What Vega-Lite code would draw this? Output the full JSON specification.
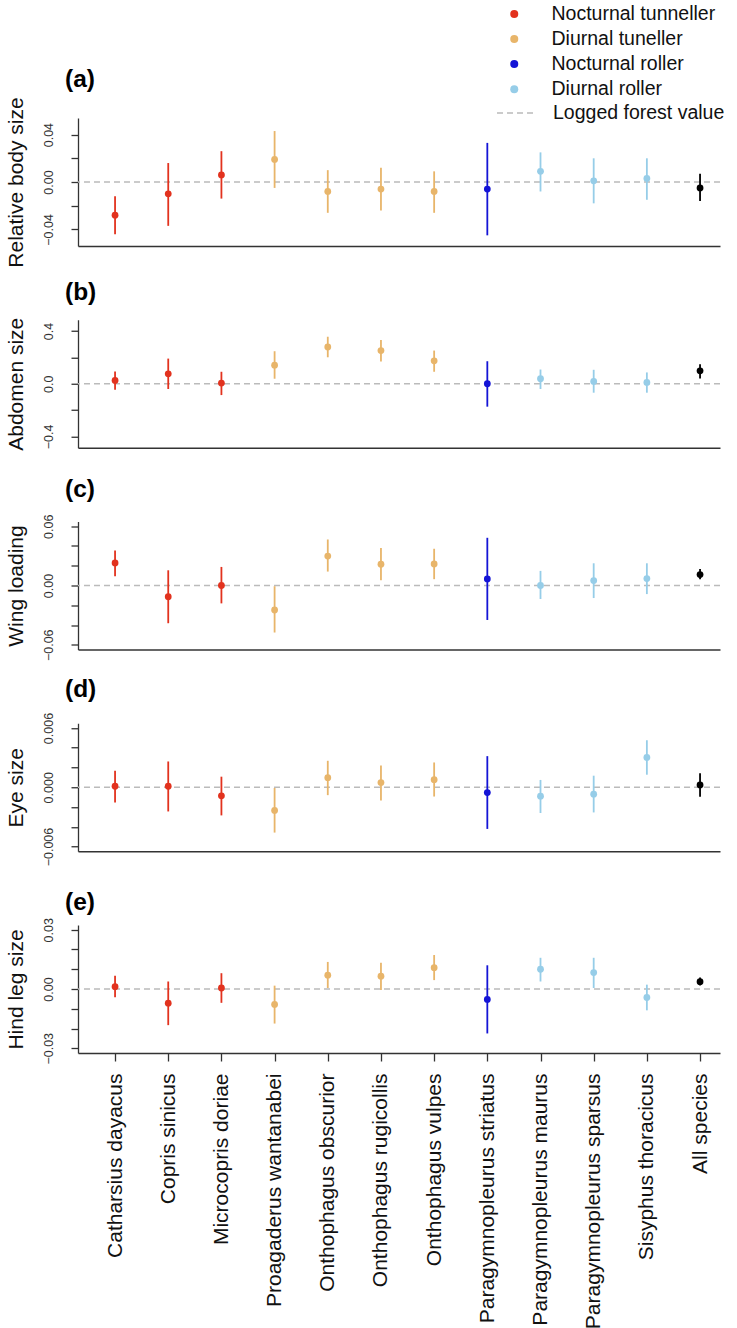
{
  "$schema": "https://vega.github.io/schema/vega-lite/v6.json",
  "background": "white",
  "padding": {"left": 5, "top": 4, "right": 5, "bottom": 2},
  "bounds": "flush",
  "spacing": 73.75,
  "config": {
    "font": "Liberation Sans",
    "view": {"stroke": null},
    "axis": {"grid": false, "domainColor": "#333333", "tickColor": "#333333", "domainWidth": 1.3, "tickWidth": 1.3, "labelFont": "Liberation Sans", "titleFont": "Liberation Sans", "titleFontWeight": "normal", "labelOverlap": false},
    "axisY": {"labelAngle": -90, "labelAlign": "center", "labelBaseline": "bottom", "labelPadding": 16, "labelFontSize": 12.5, "labelColor": "#333333", "tickSize": 7, "titleFontSize": 21, "titleColor": "#111111", "titlePadding": 16},
    "axisX": {"labelAngle": -90, "labelAlign": "right", "labelBaseline": "middle", "labelFontSize": 21, "labelColor": "#111111", "labelPadding": 12, "tickSize": 8, "labelLimit": 400},
    "legend": {"orient": "none", "padding": 0, "labelFontSize": 19.5, "labelColor": "#111111", "labelFont": "Liberation Sans", "labelLimit": 400},
    "title": {"anchor": "start", "frame": "group", "dx": -13, "fontSize": 24.5, "fontWeight": "bold", "baseline": "alphabetic", "color": "#000000", "font": "Liberation Sans"}
  },
  "datasets": {
    "traits": [
      {"trait": "body", "species": "Catharsius dayacus", "group": "Nocturnal tunneller", "est": -0.028, "lo": -0.044, "hi": -0.012},
      {"trait": "body", "species": "Copris sinicus", "group": "Nocturnal tunneller", "est": -0.010, "lo": -0.037, "hi": 0.016},
      {"trait": "body", "species": "Microcopris doriae", "group": "Nocturnal tunneller", "est": 0.006, "lo": -0.014, "hi": 0.026},
      {"trait": "body", "species": "Proagaderus wantanabei", "group": "Diurnal tuneller", "est": 0.019, "lo": -0.005, "hi": 0.043},
      {"trait": "body", "species": "Onthophagus obscurior", "group": "Diurnal tuneller", "est": -0.008, "lo": -0.026, "hi": 0.010},
      {"trait": "body", "species": "Onthophagus rugicollis", "group": "Diurnal tuneller", "est": -0.006, "lo": -0.024, "hi": 0.012},
      {"trait": "body", "species": "Onthophagus vulpes", "group": "Diurnal tuneller", "est": -0.008, "lo": -0.026, "hi": 0.009},
      {"trait": "body", "species": "Paragymnopleurus striatus", "group": "Nocturnal roller", "est": -0.006, "lo": -0.045, "hi": 0.033},
      {"trait": "body", "species": "Paragymnopleurus maurus", "group": "Diurnal roller", "est": 0.009, "lo": -0.008, "hi": 0.025},
      {"trait": "body", "species": "Paragymnopleurus sparsus", "group": "Diurnal roller", "est": 0.001, "lo": -0.018, "hi": 0.020},
      {"trait": "body", "species": "Sisyphus thoracicus", "group": "Diurnal roller", "est": 0.003, "lo": -0.015, "hi": 0.020},
      {"trait": "body", "species": "All species", "group": "All species", "est": -0.005, "lo": -0.016, "hi": 0.007},

      {"trait": "abdomen", "species": "Catharsius dayacus", "group": "Nocturnal tunneller", "est": 0.025, "lo": -0.045, "hi": 0.093},
      {"trait": "abdomen", "species": "Copris sinicus", "group": "Nocturnal tunneller", "est": 0.075, "lo": -0.040, "hi": 0.191},
      {"trait": "abdomen", "species": "Microcopris doriae", "group": "Nocturnal tunneller", "est": 0.005, "lo": -0.086, "hi": 0.091},
      {"trait": "abdomen", "species": "Proagaderus wantanabei", "group": "Diurnal tuneller", "est": 0.141, "lo": 0.038, "hi": 0.247},
      {"trait": "abdomen", "species": "Onthophagus obscurior", "group": "Diurnal tuneller", "est": 0.279, "lo": 0.201, "hi": 0.357},
      {"trait": "abdomen", "species": "Onthophagus rugicollis", "group": "Diurnal tuneller", "est": 0.252, "lo": 0.169, "hi": 0.332},
      {"trait": "abdomen", "species": "Onthophagus vulpes", "group": "Diurnal tuneller", "est": 0.174, "lo": 0.091, "hi": 0.252},
      {"trait": "abdomen", "species": "Paragymnopleurus striatus", "group": "Nocturnal roller", "est": 0.000, "lo": -0.174, "hi": 0.171},
      {"trait": "abdomen", "species": "Paragymnopleurus maurus", "group": "Diurnal roller", "est": 0.038, "lo": -0.040, "hi": 0.108},
      {"trait": "abdomen", "species": "Paragymnopleurus sparsus", "group": "Diurnal roller", "est": 0.018, "lo": -0.068, "hi": 0.106},
      {"trait": "abdomen", "species": "Sisyphus thoracicus", "group": "Diurnal roller", "est": 0.010, "lo": -0.068, "hi": 0.086},
      {"trait": "abdomen", "species": "All species", "group": "All species", "est": 0.098, "lo": 0.040, "hi": 0.148},

      {"trait": "wing", "species": "Catharsius dayacus", "group": "Nocturnal tunneller", "est": 0.0228, "lo": 0.0094, "hi": 0.0355},
      {"trait": "wing", "species": "Copris sinicus", "group": "Nocturnal tunneller", "est": -0.0114, "lo": -0.0382, "hi": 0.0154},
      {"trait": "wing", "species": "Microcopris doriae", "group": "Nocturnal tunneller", "est": 0.0000, "lo": -0.0181, "hi": 0.0188},
      {"trait": "wing", "species": "Proagaderus wantanabei", "group": "Diurnal tuneller", "est": -0.0248, "lo": -0.0476, "hi": -0.0007},
      {"trait": "wing", "species": "Onthophagus obscurior", "group": "Diurnal tuneller", "est": 0.0298, "lo": 0.0141, "hi": 0.0466},
      {"trait": "wing", "species": "Onthophagus rugicollis", "group": "Diurnal tuneller", "est": 0.0215, "lo": 0.0054, "hi": 0.0379},
      {"trait": "wing", "species": "Onthophagus vulpes", "group": "Diurnal tuneller", "est": 0.0218, "lo": 0.0064, "hi": 0.0372},
      {"trait": "wing", "species": "Paragymnopleurus striatus", "group": "Nocturnal roller", "est": 0.0067, "lo": -0.0349, "hi": 0.0483},
      {"trait": "wing", "species": "Paragymnopleurus maurus", "group": "Diurnal roller", "est": 0.0000, "lo": -0.0137, "hi": 0.0148},
      {"trait": "wing", "species": "Paragymnopleurus sparsus", "group": "Diurnal roller", "est": 0.0050, "lo": -0.0127, "hi": 0.0225},
      {"trait": "wing", "species": "Sisyphus thoracicus", "group": "Diurnal roller", "est": 0.0070, "lo": -0.0087, "hi": 0.0225},
      {"trait": "wing", "species": "All species", "group": "All species", "est": 0.0111, "lo": 0.0064, "hi": 0.0168},

      {"trait": "eye", "species": "Catharsius dayacus", "group": "Nocturnal tunneller", "est": 0.0001, "lo": -0.00154, "hi": 0.00168},
      {"trait": "eye", "species": "Copris sinicus", "group": "Nocturnal tunneller", "est": 0.0001, "lo": -0.00245, "hi": 0.00261},
      {"trait": "eye", "species": "Microcopris doriae", "group": "Nocturnal tunneller", "est": -0.00087, "lo": -0.00285, "hi": 0.00107},
      {"trait": "eye", "species": "Proagaderus wantanabei", "group": "Diurnal tuneller", "est": -0.00235, "lo": -0.00459, "hi": -0.00007},
      {"trait": "eye", "species": "Onthophagus obscurior", "group": "Diurnal tuneller", "est": 0.00097, "lo": -0.0008, "hi": 0.00268},
      {"trait": "eye", "species": "Onthophagus rugicollis", "group": "Diurnal tuneller", "est": 0.00047, "lo": -0.00134, "hi": 0.00221},
      {"trait": "eye", "species": "Onthophagus vulpes", "group": "Diurnal tuneller", "est": 0.00077, "lo": -0.00094, "hi": 0.00251},
      {"trait": "eye", "species": "Paragymnopleurus striatus", "group": "Nocturnal roller", "est": -0.00054, "lo": -0.00422, "hi": 0.00315},
      {"trait": "eye", "species": "Paragymnopleurus maurus", "group": "Diurnal roller", "est": -0.0009, "lo": -0.00261, "hi": 0.00074},
      {"trait": "eye", "species": "Paragymnopleurus sparsus", "group": "Diurnal roller", "est": -0.0007, "lo": -0.00255, "hi": 0.00117},
      {"trait": "eye", "species": "Sisyphus thoracicus", "group": "Diurnal roller", "est": 0.00302, "lo": 0.00127, "hi": 0.00476},
      {"trait": "eye", "species": "All species", "group": "All species", "est": 0.00023, "lo": -0.00097, "hi": 0.00141},

      {"trait": "leg", "species": "Catharsius dayacus", "group": "Nocturnal tunneller", "est": 0.0012, "lo": -0.0042, "hi": 0.0067},
      {"trait": "leg", "species": "Copris sinicus", "group": "Nocturnal tunneller", "est": -0.0072, "lo": -0.0183, "hi": 0.0038},
      {"trait": "leg", "species": "Microcopris doriae", "group": "Nocturnal tunneller", "est": 0.0005, "lo": -0.0070, "hi": 0.0080},
      {"trait": "leg", "species": "Proagaderus wantanabei", "group": "Diurnal tuneller", "est": -0.0078, "lo": -0.0175, "hi": 0.0017},
      {"trait": "leg", "species": "Onthophagus obscurior", "group": "Diurnal tuneller", "est": 0.0070, "lo": 0.0005, "hi": 0.0137},
      {"trait": "leg", "species": "Onthophagus rugicollis", "group": "Diurnal tuneller", "est": 0.0065, "lo": -0.0005, "hi": 0.0133},
      {"trait": "leg", "species": "Onthophagus vulpes", "group": "Diurnal tuneller", "est": 0.0108, "lo": 0.0045, "hi": 0.0172},
      {"trait": "leg", "species": "Paragymnopleurus striatus", "group": "Nocturnal roller", "est": -0.0053, "lo": -0.0225, "hi": 0.0120},
      {"trait": "leg", "species": "Paragymnopleurus maurus", "group": "Diurnal roller", "est": 0.0100, "lo": 0.0038, "hi": 0.0158},
      {"trait": "leg", "species": "Paragymnopleurus sparsus", "group": "Diurnal roller", "est": 0.0083, "lo": 0.0005, "hi": 0.0158},
      {"trait": "leg", "species": "Sisyphus thoracicus", "group": "Diurnal roller", "est": -0.0043, "lo": -0.0108, "hi": 0.0022},
      {"trait": "leg", "species": "All species", "group": "All species", "est": 0.0037, "lo": 0.0018, "hi": 0.0058}
    ]
  },
  "vconcat": [
    {
      "width": 642, "height": 128,
      "title": {"text": "(a)", "offset": 4.3},
      "layer": [
        {
          "data": {"values": [{"line": "Logged forest value", "value": 0}]},
          "mark": {"type": "rule", "color": "#BBBBBB", "strokeWidth": 1.5},
          "encoding": {
            "y": {"field": "value", "type": "quantitative", "scale": {"domain": [-0.054, 0.054]},
                  "axis": {"title": "Relative body size", "values": [-0.04, -0.02, 0, 0.02, 0.04], "format": ".2f", "labelExpr": "abs(datum.value) > 0.03 || datum.value === 0 ? datum.label : ''"}},
            "strokeDash": {"field": "line", "type": "nominal", "scale": {"range": [[6, 4]]},
                  "legend": {"title": null, "legendX": 418, "legendY": -24, "symbolType": "stroke", "symbolSize": 1296, "symbolStrokeColor": "#BBBBBB", "symbolStrokeWidth": 1.5, "labelOffset": 19}}
          }
        },
        {
          "data": {"name": "traits"},
          "transform": [{"filter": "datum.trait === 'body'"}],
          "mark": {"type": "rule", "strokeWidth": 1.8},
          "encoding": {
            "x": {"field": "species", "type": "nominal", "sort": null, "scale": {"type": "point", "padding": 0.536, "align": 0.65}, "axis": {"labels": false, "ticks": false, "title": null}},
            "y": {"field": "lo", "type": "quantitative", "scale": {"domain": [-0.054, 0.054]},
                  "axis": {"title": "Relative body size", "values": [-0.04, -0.02, 0, 0.02, 0.04], "format": ".2f", "labelExpr": "abs(datum.value) > 0.03 || datum.value === 0 ? datum.label : ''"}},
            "y2": {"field": "hi"},
            "color": {"field": "group", "type": "nominal", "scale": {"domain": ["Nocturnal tunneller", "Diurnal tuneller", "Nocturnal roller", "Diurnal roller", "All species"], "range": ["#E2321E", "#E8B56A", "#1414D6", "#96CDE8", "#000000"]},
                      "legend": {"title": null, "values": ["Nocturnal tunneller", "Diurnal tuneller", "Nocturnal roller", "Diurnal roller"], "legendX": 426.5, "legendY": -113.75, "symbolType": "circle", "symbolSize": 64, "symbolStrokeWidth": 0, "rowPadding": 4.05, "labelOffset": 27.5}}
          }
        },
        {
          "data": {"name": "traits"},
          "transform": [{"filter": "datum.trait === 'body'"}],
          "mark": {"type": "point", "filled": true, "size": 46, "opacity": 1},
          "encoding": {
            "x": {"field": "species", "type": "nominal", "sort": null, "scale": {"type": "point", "padding": 0.536, "align": 0.65}, "axis": {"labels": false, "ticks": false, "title": null}},
            "y": {"field": "est", "type": "quantitative", "scale": {"domain": [-0.054, 0.054]},
                  "axis": {"title": "Relative body size", "values": [-0.04, -0.02, 0, 0.02, 0.04], "format": ".2f", "labelExpr": "abs(datum.value) > 0.03 || datum.value === 0 ? datum.label : ''"}},
            "color": {"field": "group", "type": "nominal", "scale": {"domain": ["Nocturnal tunneller", "Diurnal tuneller", "Nocturnal roller", "Diurnal roller", "All species"], "range": ["#E2321E", "#E8B56A", "#1414D6", "#96CDE8", "#000000"]},
                      "legend": {"title": null, "values": ["Nocturnal tunneller", "Diurnal tuneller", "Nocturnal roller", "Diurnal roller"], "legendX": 426.5, "legendY": -113.75, "symbolType": "circle", "symbolSize": 64, "symbolStrokeWidth": 0, "rowPadding": 4.05, "labelOffset": 27.5}}
          }
        }
      ]
    },
    {
      "width": 642, "height": 128,
      "title": {"text": "(b)", "offset": 11.5},
      "layer": [
        {
          "data": {"values": [{"line": "Logged forest value", "value": 0}]},
          "mark": {"type": "rule", "color": "#BBBBBB", "strokeWidth": 1.5, "strokeDash": [6, 4]},
          "encoding": {
            "y": {"field": "value", "type": "quantitative", "scale": {"domain": [-0.486, 0.486]},
                  "axis": {"title": "Abdomen size", "values": [-0.4, -0.2, 0, 0.2, 0.4], "format": ".1f", "labelExpr": "abs(datum.value) > 0.3 || datum.value === 0 ? datum.label : ''"}}
          }
        },
        {
          "data": {"name": "traits"},
          "transform": [{"filter": "datum.trait === 'abdomen'"}],
          "mark": {"type": "rule", "strokeWidth": 1.8},
          "encoding": {
            "x": {"field": "species", "type": "nominal", "sort": null, "scale": {"type": "point", "padding": 0.536, "align": 0.65}, "axis": {"labels": false, "ticks": false, "title": null}},
            "y": {"field": "lo", "type": "quantitative", "scale": {"domain": [-0.486, 0.486]},
                  "axis": {"title": "Abdomen size", "values": [-0.4, -0.2, 0, 0.2, 0.4], "format": ".1f", "labelExpr": "abs(datum.value) > 0.3 || datum.value === 0 ? datum.label : ''"}},
            "y2": {"field": "hi"},
            "color": {"field": "group", "type": "nominal", "scale": {"domain": ["Nocturnal tunneller", "Diurnal tuneller", "Nocturnal roller", "Diurnal roller", "All species"], "range": ["#E2321E", "#E8B56A", "#1414D6", "#96CDE8", "#000000"]},
                      "legend": {"title": null, "values": ["Nocturnal tunneller", "Diurnal tuneller", "Nocturnal roller", "Diurnal roller"], "legendX": 426.5, "legendY": -113.75, "symbolType": "circle", "symbolSize": 64, "symbolStrokeWidth": 0, "rowPadding": 4.05, "labelOffset": 27.5}}
          }
        },
        {
          "data": {"name": "traits"},
          "transform": [{"filter": "datum.trait === 'abdomen'"}],
          "mark": {"type": "point", "filled": true, "size": 46, "opacity": 1},
          "encoding": {
            "x": {"field": "species", "type": "nominal", "sort": null, "scale": {"type": "point", "padding": 0.536, "align": 0.65}, "axis": {"labels": false, "ticks": false, "title": null}},
            "y": {"field": "est", "type": "quantitative", "scale": {"domain": [-0.486, 0.486]},
                  "axis": {"title": "Abdomen size", "values": [-0.4, -0.2, 0, 0.2, 0.4], "format": ".1f", "labelExpr": "abs(datum.value) > 0.3 || datum.value === 0 ? datum.label : ''"}},
            "color": {"field": "group", "type": "nominal", "scale": {"domain": ["Nocturnal tunneller", "Diurnal tuneller", "Nocturnal roller", "Diurnal roller", "All species"], "range": ["#E2321E", "#E8B56A", "#1414D6", "#96CDE8", "#000000"]},
                      "legend": {"title": null, "values": ["Nocturnal tunneller", "Diurnal tuneller", "Nocturnal roller", "Diurnal roller"], "legendX": 426.5, "legendY": -113.75, "symbolType": "circle", "symbolSize": 64, "symbolStrokeWidth": 0, "rowPadding": 4.05, "labelOffset": 27.5}}
          }
        }
      ]
    },
    {
      "width": 642, "height": 128,
      "title": {"text": "(c)", "offset": 11.5},
      "layer": [
        {
          "data": {"values": [{"line": "Logged forest value", "value": 0}]},
          "mark": {"type": "rule", "color": "#BBBBBB", "strokeWidth": 1.5, "strokeDash": [6, 4]},
          "encoding": {
            "y": {"field": "value", "type": "quantitative", "scale": {"domain": [-0.0648, 0.0648]},
                  "axis": {"title": "Wing loading", "values": [-0.06, -0.04, -0.02, 0, 0.02, 0.04, 0.06], "format": ".2f", "labelExpr": "abs(datum.value) > 0.05 || datum.value === 0 ? datum.label : ''"}}
          }
        },
        {
          "data": {"name": "traits"},
          "transform": [{"filter": "datum.trait === 'wing'"}],
          "mark": {"type": "rule", "strokeWidth": 1.8},
          "encoding": {
            "x": {"field": "species", "type": "nominal", "sort": null, "scale": {"type": "point", "padding": 0.536, "align": 0.65}, "axis": {"labels": false, "ticks": false, "title": null}},
            "y": {"field": "lo", "type": "quantitative", "scale": {"domain": [-0.0648, 0.0648]},
                  "axis": {"title": "Wing loading", "values": [-0.06, -0.04, -0.02, 0, 0.02, 0.04, 0.06], "format": ".2f", "labelExpr": "abs(datum.value) > 0.05 || datum.value === 0 ? datum.label : ''"}},
            "y2": {"field": "hi"},
            "color": {"field": "group", "type": "nominal", "scale": {"domain": ["Nocturnal tunneller", "Diurnal tuneller", "Nocturnal roller", "Diurnal roller", "All species"], "range": ["#E2321E", "#E8B56A", "#1414D6", "#96CDE8", "#000000"]},
                      "legend": {"title": null, "values": ["Nocturnal tunneller", "Diurnal tuneller", "Nocturnal roller", "Diurnal roller"], "legendX": 426.5, "legendY": -113.75, "symbolType": "circle", "symbolSize": 64, "symbolStrokeWidth": 0, "rowPadding": 4.05, "labelOffset": 27.5}}
          }
        },
        {
          "data": {"name": "traits"},
          "transform": [{"filter": "datum.trait === 'wing'"}],
          "mark": {"type": "point", "filled": true, "size": 46, "opacity": 1},
          "encoding": {
            "x": {"field": "species", "type": "nominal", "sort": null, "scale": {"type": "point", "padding": 0.536, "align": 0.65}, "axis": {"labels": false, "ticks": false, "title": null}},
            "y": {"field": "est", "type": "quantitative", "scale": {"domain": [-0.0648, 0.0648]},
                  "axis": {"title": "Wing loading", "values": [-0.06, -0.04, -0.02, 0, 0.02, 0.04, 0.06], "format": ".2f", "labelExpr": "abs(datum.value) > 0.05 || datum.value === 0 ? datum.label : ''"}},
            "color": {"field": "group", "type": "nominal", "scale": {"domain": ["Nocturnal tunneller", "Diurnal tuneller", "Nocturnal roller", "Diurnal roller", "All species"], "range": ["#E2321E", "#E8B56A", "#1414D6", "#96CDE8", "#000000"]},
                      "legend": {"title": null, "values": ["Nocturnal tunneller", "Diurnal tuneller", "Nocturnal roller", "Diurnal roller"], "legendX": 426.5, "legendY": -113.75, "symbolType": "circle", "symbolSize": 64, "symbolStrokeWidth": 0, "rowPadding": 4.05, "labelOffset": 27.5}}
          }
        }
      ]
    },
    {
      "width": 642, "height": 128,
      "title": {"text": "(d)", "offset": 9.4},
      "layer": [
        {
          "data": {"values": [{"line": "Logged forest value", "value": 0}]},
          "mark": {"type": "rule", "color": "#BBBBBB", "strokeWidth": 1.5, "strokeDash": [6, 4]},
          "encoding": {
            "y": {"field": "value", "type": "quantitative", "scale": {"domain": [-0.00648, 0.00648]},
                  "axis": {"title": "Eye size", "values": [-0.006, -0.004, -0.002, 0, 0.002, 0.004, 0.006], "format": ".3f", "labelExpr": "abs(datum.value) > 0.005 || datum.value === 0 ? datum.label : ''"}}
          }
        },
        {
          "data": {"name": "traits"},
          "transform": [{"filter": "datum.trait === 'eye'"}],
          "mark": {"type": "rule", "strokeWidth": 1.8},
          "encoding": {
            "x": {"field": "species", "type": "nominal", "sort": null, "scale": {"type": "point", "padding": 0.536, "align": 0.65}, "axis": {"labels": false, "ticks": false, "title": null}},
            "y": {"field": "lo", "type": "quantitative", "scale": {"domain": [-0.00648, 0.00648]},
                  "axis": {"title": "Eye size", "values": [-0.006, -0.004, -0.002, 0, 0.002, 0.004, 0.006], "format": ".3f", "labelExpr": "abs(datum.value) > 0.005 || datum.value === 0 ? datum.label : ''"}},
            "y2": {"field": "hi"},
            "color": {"field": "group", "type": "nominal", "scale": {"domain": ["Nocturnal tunneller", "Diurnal tuneller", "Nocturnal roller", "Diurnal roller", "All species"], "range": ["#E2321E", "#E8B56A", "#1414D6", "#96CDE8", "#000000"]},
                      "legend": {"title": null, "values": ["Nocturnal tunneller", "Diurnal tuneller", "Nocturnal roller", "Diurnal roller"], "legendX": 426.5, "legendY": -113.75, "symbolType": "circle", "symbolSize": 64, "symbolStrokeWidth": 0, "rowPadding": 4.05, "labelOffset": 27.5}}
          }
        },
        {
          "data": {"name": "traits"},
          "transform": [{"filter": "datum.trait === 'eye'"}],
          "mark": {"type": "point", "filled": true, "size": 46, "opacity": 1},
          "encoding": {
            "x": {"field": "species", "type": "nominal", "sort": null, "scale": {"type": "point", "padding": 0.536, "align": 0.65}, "axis": {"labels": false, "ticks": false, "title": null}},
            "y": {"field": "est", "type": "quantitative", "scale": {"domain": [-0.00648, 0.00648]},
                  "axis": {"title": "Eye size", "values": [-0.006, -0.004, -0.002, 0, 0.002, 0.004, 0.006], "format": ".3f", "labelExpr": "abs(datum.value) > 0.005 || datum.value === 0 ? datum.label : ''"}},
            "color": {"field": "group", "type": "nominal", "scale": {"domain": ["Nocturnal tunneller", "Diurnal tuneller", "Nocturnal roller", "Diurnal roller", "All species"], "range": ["#E2321E", "#E8B56A", "#1414D6", "#96CDE8", "#000000"]},
                      "legend": {"title": null, "values": ["Nocturnal tunneller", "Diurnal tuneller", "Nocturnal roller", "Diurnal roller"], "legendX": 426.5, "legendY": -113.75, "symbolType": "circle", "symbolSize": 64, "symbolStrokeWidth": 0, "rowPadding": 4.05, "labelOffset": 27.5}}
          }
        }
      ]
    },
    {
      "width": 642, "height": 128,
      "title": {"text": "(e)", "offset": 2.3},
      "layer": [
        {
          "data": {"values": [{"line": "Logged forest value", "value": 0}]},
          "mark": {"type": "rule", "color": "#BBBBBB", "strokeWidth": 1.5, "strokeDash": [6, 4]},
          "encoding": {
            "y": {"field": "value", "type": "quantitative", "scale": {"domain": [-0.0324, 0.0324]},
                  "axis": {"title": "Hind leg size", "values": [-0.03, -0.02, -0.01, 0, 0.01, 0.02, 0.03], "format": ".2f", "labelExpr": "abs(datum.value) > 0.025 || datum.value === 0 ? datum.label : ''"}}
          }
        },
        {
          "data": {"name": "traits"},
          "transform": [{"filter": "datum.trait === 'leg'"}],
          "mark": {"type": "rule", "strokeWidth": 1.8},
          "encoding": {
            "x": {"field": "species", "type": "nominal", "sort": null, "scale": {"type": "point", "padding": 0.536, "align": 0.65}, "axis": {"title": null}},
            "y": {"field": "lo", "type": "quantitative", "scale": {"domain": [-0.0324, 0.0324]},
                  "axis": {"title": "Hind leg size", "values": [-0.03, -0.02, -0.01, 0, 0.01, 0.02, 0.03], "format": ".2f", "labelExpr": "abs(datum.value) > 0.025 || datum.value === 0 ? datum.label : ''"}},
            "y2": {"field": "hi"},
            "color": {"field": "group", "type": "nominal", "scale": {"domain": ["Nocturnal tunneller", "Diurnal tuneller", "Nocturnal roller", "Diurnal roller", "All species"], "range": ["#E2321E", "#E8B56A", "#1414D6", "#96CDE8", "#000000"]},
                      "legend": {"title": null, "values": ["Nocturnal tunneller", "Diurnal tuneller", "Nocturnal roller", "Diurnal roller"], "legendX": 426.5, "legendY": -113.75, "symbolType": "circle", "symbolSize": 64, "symbolStrokeWidth": 0, "rowPadding": 4.05, "labelOffset": 27.5}}
          }
        },
        {
          "data": {"name": "traits"},
          "transform": [{"filter": "datum.trait === 'leg'"}],
          "mark": {"type": "point", "filled": true, "size": 46, "opacity": 1},
          "encoding": {
            "x": {"field": "species", "type": "nominal", "sort": null, "scale": {"type": "point", "padding": 0.536, "align": 0.65}, "axis": {"title": null}},
            "y": {"field": "est", "type": "quantitative", "scale": {"domain": [-0.0324, 0.0324]},
                  "axis": {"title": "Hind leg size", "values": [-0.03, -0.02, -0.01, 0, 0.01, 0.02, 0.03], "format": ".2f", "labelExpr": "abs(datum.value) > 0.025 || datum.value === 0 ? datum.label : ''"}},
            "color": {"field": "group", "type": "nominal", "scale": {"domain": ["Nocturnal tunneller", "Diurnal tuneller", "Nocturnal roller", "Diurnal roller", "All species"], "range": ["#E2321E", "#E8B56A", "#1414D6", "#96CDE8", "#000000"]},
                      "legend": {"title": null, "values": ["Nocturnal tunneller", "Diurnal tuneller", "Nocturnal roller", "Diurnal roller"], "legendX": 426.5, "legendY": -113.75, "symbolType": "circle", "symbolSize": 64, "symbolStrokeWidth": 0, "rowPadding": 4.05, "labelOffset": 27.5}}
          }
        }
      ]
    }
  ]
}
